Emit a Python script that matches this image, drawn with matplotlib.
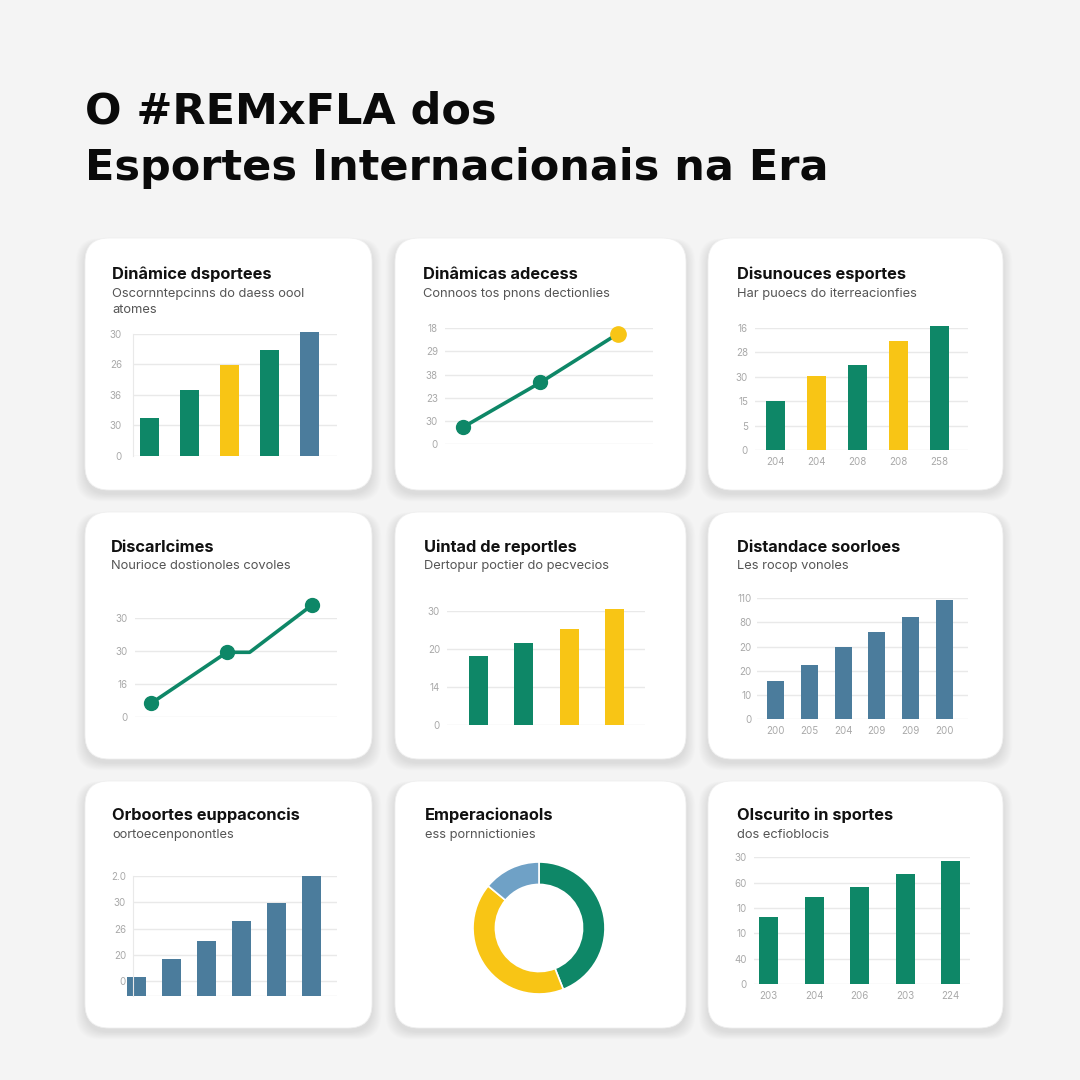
import numpy as np
import matplotlib
matplotlib.use("Agg")
import matplotlib.pyplot as plt
from matplotlib.patches import FancyBboxPatch

plt.rcParams['font.family'] = ['Inter', 'DejaVu Sans']

W = H = 1080
GREEN = "#0e8767"
YELLOW = "#f8c515"
BLUE = "#4b7c9c"
LBLUE = "#6fa1c6"
BG = "#f4f4f4"
GRID = "#e9e9e9"
TICK = "#a9a9a9"

title_lines = ["O #REMxFLA dos", "Esportes Internacionais na Era"]

# --- panel data ------------------------------------------------------------
p1_title = "Dinâmice dsportees"
p1_sub = "Oscornntepcinns do daess oool\natomes"
p1_vals = [1.24, 2.15, 2.96, 3.45, 4.05]
p1_cols = [GREEN, GREEN, YELLOW, GREEN, BLUE]
p1_yt = ["0", "30", "36", "26", "30"]

p2_title = "Dinâmicas adecess"
p2_sub = "Connoos tos pnons dectionlies"
p2_x = [0, 1, 2]
p2_y = [0.72, 2.66, 4.77]
p2_yt = ["0", "30", "23", "38", "29", "18"]

p3_title = "Disunouces esportes"
p3_sub = "Har puoecs do iterreacionfies"
p3_vals = [2.0, 3.03, 3.47, 4.45, 5.06]
p3_cols = [GREEN, YELLOW, GREEN, YELLOW, GREEN]
p3_yt = ["0", "5", "15", "30", "28", "16"]
p3_xt = ["204", "204", "208", "208", "258"]

p4_title = "Discarlcimes"
p4_sub = "Nourioce dostionoles covoles"
p4_x = [0, 1, 1.3, 2.12]
p4_y = [0.42, 1.97, 1.97, 3.4]
p4_yt = ["0", "16", "30", "30"]

p5_title = "Uintad de reportles"
p5_sub = "Dertopur poctier do pecvecios"
p5_vals = [1.82, 2.15, 2.52, 3.04]
p5_cols = [GREEN, GREEN, YELLOW, YELLOW]
p5_yt = ["0", "14", "20", "30"]

p6_title = "Distandace soorloes"
p6_sub = "Les rocop vonoles"
p6_vals = [1.57, 2.26, 2.98, 3.61, 4.22, 4.94]
p6_yt = ["0", "10", "20", "20", "80", "110"]
p6_xt = ["200", "205", "204", "209", "209", "200"]

p7_title = "Orboortes euppaconcis"
p7_sub = "oortoecenponontles"
p7_vals = [0.16, 0.83, 1.51, 2.3, 2.99, 3.99]
p7_yt = ["0", "20", "26", "30", "2.0"]

p8_title = "Emperacionaols"
p8_sub = "ess pornnictionies"
p8_vals = [44, 42, 14]
p8_cols = [GREEN, YELLOW, LBLUE]

p9_title = "Olscurito in sportes"
p9_sub = "dos ecfioblocis"
p9_vals = [2.65, 3.43, 3.83, 4.33, 4.86]
p9_yt = ["0", "40", "10", "10", "60", "30"]
p9_xt = ["203", "204", "206", "203", "224"]

# --- figure & cards ----------------------------------------------------------
fig = plt.figure(figsize=(10.8, 10.8), dpi=100)
fig.patch.set_facecolor(BG)
bg = fig.add_axes([0, 0, 1, 1])
bg.set_xlim(0, W)
bg.set_ylim(H, 0)
bg.axis("off")

cols_px = [(85, 372), (395, 686), (708, 1003)]
rows_px = [(238, 490), (512, 759), (781, 1028)]
R = 24
for (ya, yb) in rows_px:
    for (xa, xb) in cols_px:
        # soft shadow, a bit lower than the card
        for k in range(12):
            g = 1 + k * 1.6
            bg.add_patch(FancyBboxPatch((xa + R - g * 0.5, ya + R - g * 0.2 + 4),
                                        xb - xa - 2 * R + g, yb - ya - 2 * R + g * 0.6,
                                        boxstyle="round,pad=%d" % R, fc="#000000",
                                        ec="none", alpha=0.0085))
        bg.add_patch(FancyBboxPatch((xa + R, ya + R), xb - xa - 2 * R, yb - ya - 2 * R,
                                    boxstyle="round,pad=%d" % R, fc="white",
                                    ec="#efefef", lw=0.6))

for i, line in enumerate(title_lines):
    fig.text(85 / W, 1 - (123 + 57 * i) / H, line, fontsize=31, fontweight="bold",
             color="#0a0a0a", va="baseline", family=["DejaVu Sans"])

heads = [(p1_title, p1_sub, 112, 274, 294), (p2_title, p2_sub, 423, 274, 294),
         (p3_title, p3_sub, 737, 274, 294), (p4_title, p4_sub, 111, 547, 566),
         (p5_title, p5_sub, 424, 547, 566), (p6_title, p6_sub, 737, 547, 566),
         (p7_title, p7_sub, 112, 815, 835), (p8_title, p8_sub, 425, 815, 835),
         (p9_title, p9_sub, 737, 815, 835)]
for t, s, x, yt, ys in heads:
    fig.text(x / W, 1 - yt / H, t, fontsize=11.8, fontweight="bold", color="#111111",
             va="center")
    for j, ln in enumerate(s.split("\n")):
        fig.text(x / W, 1 - (ys + 16 * j) / H, ln, fontsize=9.3, color="#555555",
                 va="center")


def make_ax(x0, x1, ybot, ytop):
    ax = fig.add_axes([x0 / W, 1 - ybot / H, (x1 - x0) / W, (ybot - ytop) / H])
    ax.patch.set_alpha(0)
    for sp in ax.spines.values():
        sp.set_visible(False)
    ax.tick_params(length=0, labelsize=7, labelcolor=TICK)
    return ax


def grid_ax(ax, labels, pad, lo=0):
    ax.set_ylim(lo, len(labels) - 1)
    ax.set_yticks(range(len(labels)))
    ax.set_yticklabels(labels)
    ax.tick_params(axis="y", pad=pad)
    for k in range(len(labels)):
        ax.axhline(k, color=GRID, lw=1, zorder=0)


# panel 1
ax = make_ax(133, 337, 455.7, 333.7)
grid_ax(ax, p1_yt, 8)
ax.bar(range(5), p1_vals, width=0.48, color=p1_cols, clip_on=False, zorder=2)
ax.set_xlim(-0.41, 4.69)
ax.set_xticks([])
ax.spines["left"].set_visible(True)
ax.spines["left"].set_color(GRID)

# panel 2
ax = make_ax(445, 653, 444, 328.3)
grid_ax(ax, p2_yt, 5)
ax.plot(p2_x, p2_y, color=GREEN, lw=2.6, zorder=2, clip_on=False)
ax.plot(p2_x[:-1], p2_y[:-1], "o", color=GREEN, ms=10, zorder=3, clip_on=False)
ax.plot(p2_x[-1:], p2_y[-1:], "o", color=YELLOW, ms=11, zorder=3, clip_on=False)
ax.set_xlim(-0.23, 2.45)
ax.set_xticks([])

# panel 3
ax = make_ax(755, 968, 450, 327.7)
grid_ax(ax, p3_yt, 5)
ax.bar(range(5), p3_vals, width=0.46, color=p3_cols, clip_on=False, zorder=2)
ax.set_xlim(-0.51, 4.69)
ax.set_xticks(range(5))
ax.set_xticklabels(p3_xt)
ax.tick_params(axis="x", pad=5)

# panel 4
ax = make_ax(135, 337, 717.3, 618.3)
grid_ax(ax, p4_yt, 5)
ax.plot(p4_x, p4_y, color=GREEN, lw=2.6, zorder=2, clip_on=False)
ax.plot(p4_x, p4_y, "o", color=GREEN, ms=10, markevery=[0, 1, 3], zorder=3,
        clip_on=False)
ax.set_xlim(-0.21, 2.45)
ax.set_xticks([])

# panel 5
ax = make_ax(447, 645, 725, 610.7)
grid_ax(ax, p5_yt, 5)
ax.bar(range(4), p5_vals, width=0.42, color=p5_cols, clip_on=False, zorder=2)
ax.set_xlim(-0.70, 3.68)
ax.set_xticks([])

# panel 6
ax = make_ax(757, 968, 719.3, 598.3)
grid_ax(ax, p6_yt, 4)
ax.bar(range(6), p6_vals, width=0.5, color=BLUE, clip_on=False, zorder=2)
ax.set_xlim(-0.55, 5.70)
ax.set_xticks(range(6))
ax.set_xticklabels(p6_xt)
ax.tick_params(axis="x", pad=5)

# panel 7
ax = make_ax(133, 337, 996, 876)
grid_ax(ax, p7_yt, 5, lo=-0.57)
ax.bar(range(6), np.array(p7_vals) + 0.57, bottom=-0.57, width=0.54, color=BLUE,
       clip_on=False, zorder=2)
ax.axhline(-0.57, color=GRID, lw=1, zorder=0)
ax.set_xlim(-0.09, 5.74)
ax.set_xticks([])
ax.spines["left"].set_visible(True)
ax.spines["left"].set_color(GRID)

# panel 8 donut
ax = fig.add_axes([(539 - 66) / W, 1 - (928 + 66) / H, 132 / W, 132 / H])
ax.pie(p8_vals, colors=p8_cols, startangle=90, counterclock=False, radius=1,
       wedgeprops=dict(width=0.34, edgecolor="white", linewidth=1.2))
ax.set_xlim(-1, 1)
ax.set_ylim(-1, 1)
ax.set_aspect("equal")

# panel 9
ax = make_ax(754, 970, 984, 857.3)
grid_ax(ax, p9_yt, 5)
ax.bar(range(5), p9_vals, width=0.42, color=GREEN, clip_on=False, zorder=2)
ax.set_xlim(-0.32, 4.42)
ax.set_xticks(range(5))
ax.set_xticklabels(p9_xt)
ax.tick_params(axis="x", pad=5)

fig.savefig("out.png", dpi=100, facecolor=fig.get_facecolor())
